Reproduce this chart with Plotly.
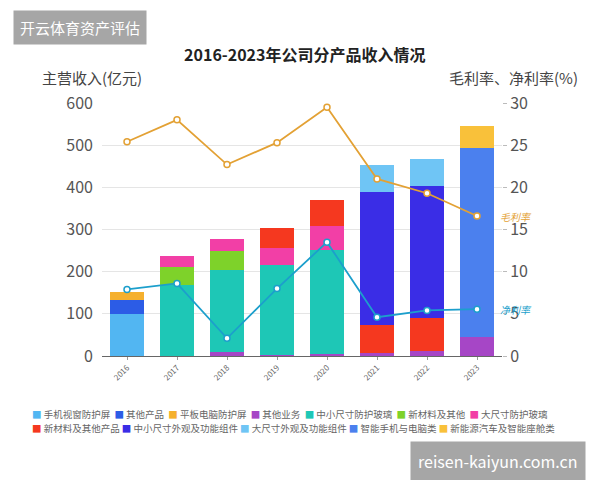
import plotly.graph_objects as go

years = ["2016", "2017", "2018", "2019", "2020", "2021", "2022", "2023"]

series_names = [
    "手机视窗防护屏", "其他产品", "平板电脑防护屏", "其他业务", "中小尺寸防护玻璃",
    "新材料及其他", "大尺寸防护玻璃", "新材料及其他产品", "中小尺寸外观及功能组件",
    "大尺寸外观及功能组件", "智能手机与电脑类", "新能源汽车及智能座舱类",
]
series_colors = [
    "#52b6f2", "#2c5ce6", "#f5b02e", "#a646c6", "#1ec7b6",
    "#7ed22a", "#f23fa6", "#f5381f", "#3a2de6",
    "#6fc5f5", "#4b80ee", "#f9c13a",
]
# values (亿元) per series, per year; None = no segment
s_phone_window = [100, None, None, None, None, None, None, None]
s_other_prod   = [34, None, None, None, None, None, None, None]
s_tablet       = [18, None, None, None, None, None, None, None]
s_other_biz    = [None, None, 10, 3, 5, 8, 12, 45]
s_small_glass  = [None, 168, 194, 213, 246, None, None, None]
s_new_mat      = [None, 44, 46, None, None, None, None, None]
s_large_glass  = [None, 25, 27, 40, 57, None, None, None]
s_new_mat_oth  = [None, None, None, 48, 62, 65, 78, None]
s_small_comp   = [None, None, None, None, None, 317, 314, None]
s_large_comp   = [None, None, None, None, None, 63, 63, None]
s_phone_pc     = [None, None, None, None, None, None, None, 449]
s_auto         = [None, None, None, None, None, None, None, 52]

series_values = [
    s_phone_window, s_other_prod, s_tablet, s_other_biz, s_small_glass,
    s_new_mat, s_large_glass, s_new_mat_oth, s_small_comp,
    s_large_comp, s_phone_pc, s_auto,
]
# stacking order bottom -> top
stack_order = [3, 0, 4, 1, 2, 5, 6, 7, 8, 9, 10, 11]

gross_margin = [25.4, 28.0, 22.7, 25.3, 29.5, 21.0, 19.3, 16.6]
net_margin = [7.9, 8.6, 2.1, 8.0, 13.5, 4.6, 5.4, 5.55]
gross_color = "#e3a134"
net_color = "#1c9fcc"

left_ticks = [0, 100, 200, 300, 400, 500, 600]
right_ticks = [0, 5, 10, 15, 20, 25, 30]

FONT = "Noto Sans CJK SC"

fig = go.Figure()
for i in stack_order:
    fig.add_trace(go.Bar(
        x=years, y=series_values[i], name=series_names[i],
        marker=dict(color=series_colors[i], line=dict(width=0)),
        showlegend=False,
    ))

fig.add_trace(go.Scatter(
    x=years, y=gross_margin, yaxis="y2", mode="lines+markers", name="毛利率",
    line=dict(color=gross_color, width=1.8),
    marker=dict(size=6, color="white", line=dict(color=gross_color, width=1.5)),
    showlegend=False,
))
fig.add_trace(go.Scatter(
    x=years, y=net_margin, yaxis="y2", mode="lines+markers", name="净利率",
    line=dict(color=net_color, width=1.8),
    marker=dict(size=6, color="white", line=dict(color=net_color, width=1.5)),
    showlegend=False,
))

annotations = []
# line end labels
annotations.append(dict(xref="paper", yref="y2", x=0.99, y=gross_margin[-1],
                        text="<i>毛利率</i>", showarrow=False, xanchor="left",
                        font=dict(family=FONT, size=10, color=gross_color)))
annotations.append(dict(xref="paper", yref="y2", x=0.99, y=net_margin[-1],
                        text="<i>净利率</i>", showarrow=False, xanchor="left",
                        font=dict(family=FONT, size=10, color=net_color)))
# axis titles
annotations.append(dict(xref="paper", yref="paper", x=-0.155, y=1.05,
                        xanchor="left", yanchor="bottom", text="主营收入(亿元)",
                        showarrow=False, font=dict(family=FONT, size=15, color="#444")))
annotations.append(dict(xref="paper", yref="paper", x=1.195, y=1.05,
                        xanchor="right", yanchor="bottom", text="毛利率、净利率(%)",
                        showarrow=False, font=dict(family=FONT, size=15, color="#444")))

# legend rows as text
def legend_row(idx, sep):
    parts = []
    for i in idx:
        parts.append(f'<span style="color:{series_colors[i]}">■</span> {series_names[i]}')
    return sep.join(parts)

annotations.append(dict(xref="paper", yref="paper", x=-0.18, y=-0.23,
                        xanchor="left", yanchor="middle", text=legend_row(range(0, 7), "  "),
                        showarrow=False, font=dict(family=FONT, size=9.5, color="#666")))
annotations.append(dict(xref="paper", yref="paper", x=-0.18, y=-0.283,
                        xanchor="left", yanchor="middle", text=legend_row(range(7, 12), " "),
                        showarrow=False, font=dict(family=FONT, size=9.5, color="#666")))

# overlay boxes
annotations.append(dict(xref="paper", yref="paper", x=-0.223, y=1.3,
                        xanchor="left", yanchor="middle", text="开云体育资产评估",
                        showarrow=False, bgcolor="#a6a6a6", borderpad=6,
                        font=dict(family=FONT, size=15, color="white")))
annotations.append(dict(xref="paper", yref="paper", x=0.77, y=-0.415,
                        xanchor="left", yanchor="middle", text="reisen-kaiyun.com.cn",
                        showarrow=False, bgcolor="#a6a6a6", borderpad=7,
                        font=dict(family=FONT, size=16, color="white")))

fig.update_layout(
    width=600, height=480,
    margin=dict(l=102, r=98, t=103, b=124),
    paper_bgcolor="white", plot_bgcolor="white",
    barmode="stack", bargap=0.32,
    title=dict(text="<b>2016-2023年公司分产品收入情况</b>", x=0.508, xanchor="center",
               y=0.885, yanchor="middle", font=dict(family=FONT, size=16, color="#222")),
    xaxis=dict(type="category", tickangle=-45, showline=True, linecolor="#666",
               linewidth=1, ticks="outside", ticklen=3, tickcolor="#999",
               tickfont=dict(family=FONT, size=8, color="#666"), showgrid=False),
    yaxis=dict(range=[0, 600], tickvals=left_ticks, showgrid=True, gridcolor="#e5e5e5",
               zeroline=False, tickfont=dict(family=FONT, size=16, color="#555"),
               ticks="", showline=False, ticklabelstandoff=8),
    yaxis2=dict(range=[0, 30], tickvals=right_ticks, ticksuffix=" %", overlaying="y",
                side="right", showgrid=False, zeroline=False,
                ticks="outside", ticklen=4, tickcolor="#bbb",
                tickfont=dict(family=FONT, size=16, color="#555")),
    annotations=annotations,
    font=dict(family=FONT),
)

fig.write_html("out.html")
